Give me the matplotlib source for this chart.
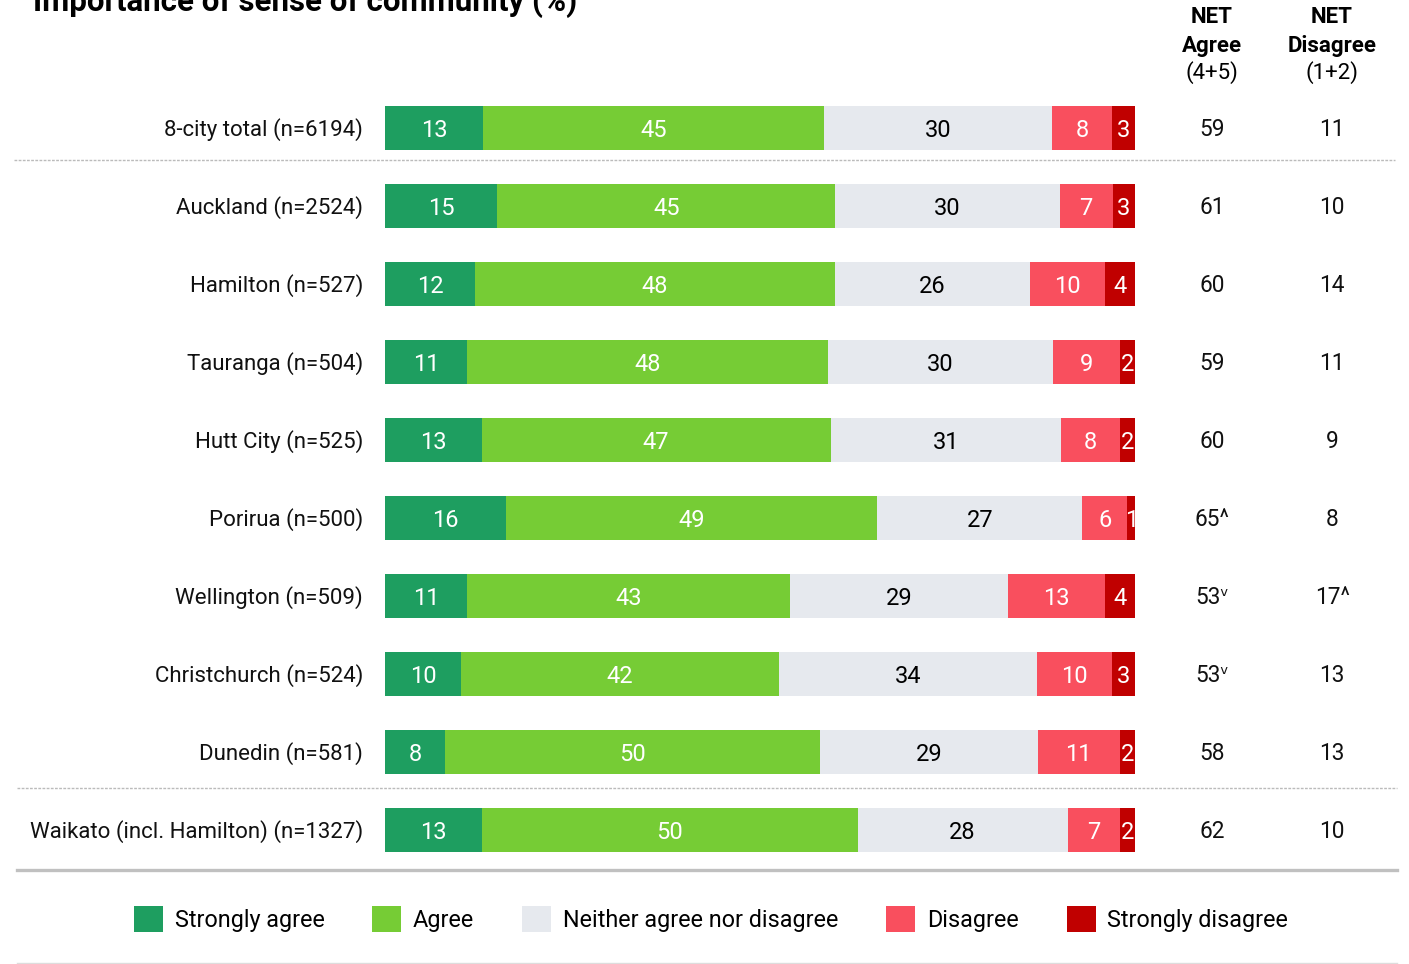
import matplotlib
matplotlib.use("Agg")
import matplotlib.pyplot as plt
from matplotlib.patches import Patch
from matplotlib.lines import Line2D
import numpy as np

plt.rcParams['font.family'] = ['Roboto', 'DejaVu Sans']
plt.rcParams['font.stretch'] = 'condensed'

# data
rows = ['8-city total (n=6194)', 'Auckland (n=2524)', 'Hamilton (n=527)',
        'Tauranga (n=504)', 'Hutt City (n=525)', 'Porirua (n=500)',
        'Wellington (n=509)', 'Christchurch (n=524)', 'Dunedin (n=581)',
        'Waikato (incl. Hamilton) (n=1327)']
strongly_agree = [13, 15, 12, 11, 13, 16, 11, 10, 8, 13]
agree = [45, 45, 48, 48, 47, 49, 43, 42, 50, 50]
neither = [30, 30, 26, 30, 31, 27, 29, 34, 29, 28]
disagree = [8, 7, 10, 9, 8, 6, 13, 10, 11, 7]
strongly_disagree = [3, 3, 4, 2, 2, 1, 4, 3, 2, 2]
net_agree = ['59', '61', '60', '59', '60', '65^', '53ᵛ', '53ᵛ', '58', '62']
net_disagree = ['11', '10', '14', '11', '9', '8', '17^', '13', '13', '10']

series = [strongly_agree, agree, neither, disagree, strongly_disagree]
names = ['Strongly agree', 'Agree', 'Neither agree nor disagree', 'Disagree', 'Strongly disagree']
colors = ['#1e9e60', '#76cc35', '#e6e9ee', '#f94f5e', '#c00000']
text_colors = ['white', 'white', 'black', 'white', 'white']

W, H = 1409, 964
fig = plt.figure(figsize=(W / 100, H / 100), dpi=100)
ax = fig.add_axes([385 / W, 1 - 869 / H, 750 / W, 780 / H])
ax.set_xlim(0, 100)
ax.set_ylim(len(rows) - 0.5, -0.5)
ax.axis('off')

data = np.array(series, dtype=float)
totals = data.sum(axis=0)
y = np.arange(len(rows))
left = np.zeros(len(rows))
for vals, col, tc in zip(data, colors, text_colors):
    w = vals / totals * 100
    ax.barh(y, w, left=left, height=0.565, color=col, edgecolor='none')
    for i in range(len(rows)):
        ax.text(left[i] + w[i] / 2, y[i] + 0.03, '%d' % vals[i], ha='center', va='center',
                color=tc, fontsize=17)
    left += w

for i, lab in enumerate(rows):
    ax.text(-2.9, i + 0.025, lab, ha='right', va='center', fontsize=16, color='#111111')
    ax.text(110.3, i + 0.025, net_agree[i], ha='center', va='center', fontsize=16.3, color='#111111', clip_on=False)
    ax.text(126.3, i + 0.025, net_disagree[i], ha='center', va='center', fontsize=16.3, color='#111111', clip_on=False)

# column headers
for x, top, sub in [(1212, 'Agree', '(4+5)'), (1332, 'Disagree', '(1+2)')]:
    fig.text(x / W, 1 - 17 / H, 'NET', ha='center', va='center', fontsize=16, fontweight='bold')
    fig.text(x / W, 1 - 46 / H, top, ha='center', va='center', fontsize=16, fontweight='bold')
    fig.text(x / W, 1 - 73 / H, sub, ha='center', va='center', fontsize=16)

fig.text(33 / W, 1 - 11 / H, 'Importance of sense of community (%)', ha='left', va='baseline',
         fontsize=22.5, fontweight='bold')

# separators
fig.add_artist(Line2D([14 / W, 1395 / W], [1 - 160 / H] * 2, color='#bbbbbb', lw=1, ls=(0, (2, 1))))
fig.add_artist(Line2D([17 / W, 1397 / W], [1 - 788 / H] * 2, color='#bbbbbb', lw=1, ls=(0, (2, 1))))
fig.add_artist(Line2D([17 / W, 1397 / W], [1 - 870 / H] * 2, color='#c0c0c0', lw=2.4))
fig.add_artist(Line2D([17 / W, 1397 / W], [1 - 963 / H] * 2, color='#dddddd', lw=1))

handles = [Patch(facecolor=c, edgecolor='none') for c in colors]
fig.legend(handles, names, loc='center', bbox_to_anchor=(711 / W, 1 - 919 / H), ncol=5,
           frameon=False, fontsize=16.8, handlelength=1.25, handleheight=1.35,
           handletextpad=0.5, columnspacing=2.05)

fig.savefig('out.png', dpi=100)
